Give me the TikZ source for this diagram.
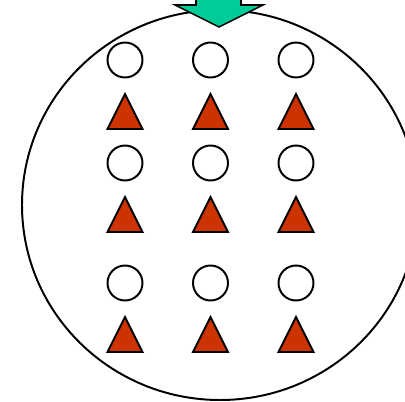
\documentclass[tikz,border=0pt]{standalone}
\usetikzlibrary{arrows.meta}
\definecolor{arrowgreen}{HTML}{00CC99}
\definecolor{brick}{HTML}{CC3300}

\begin{document}
\begin{tikzpicture}[x=0.025cm,y=-0.025cm,line width=1.4pt]
  \useasboundingbox (0,0) rectangle (405,401);
  \clip (0,0) rectangle (405,401);
  \fill[white] (0,0) rectangle (405,401);
  % recipiente
  \draw (220,205) ellipse [x radius=198, y radius=195];
  % flecha de entrada
  \filldraw[fill=arrowgreen,line width=1.1pt] (196,-10)--(196,5)--(175,5)--(219,27)--(263,5)--(241,5)--(241,-10)--cycle;
  % particulas
  \foreach \x in {125,210.5,296}{
    \foreach \y in {60,163,283} \draw (\x,\y) circle [radius=17.5];
    \foreach \y in {94,197,317} \filldraw[fill=brick] (\x,\y)--++(17.5,35)--++(-35,0)--cycle;
  }
\end{tikzpicture}
\end{document}
